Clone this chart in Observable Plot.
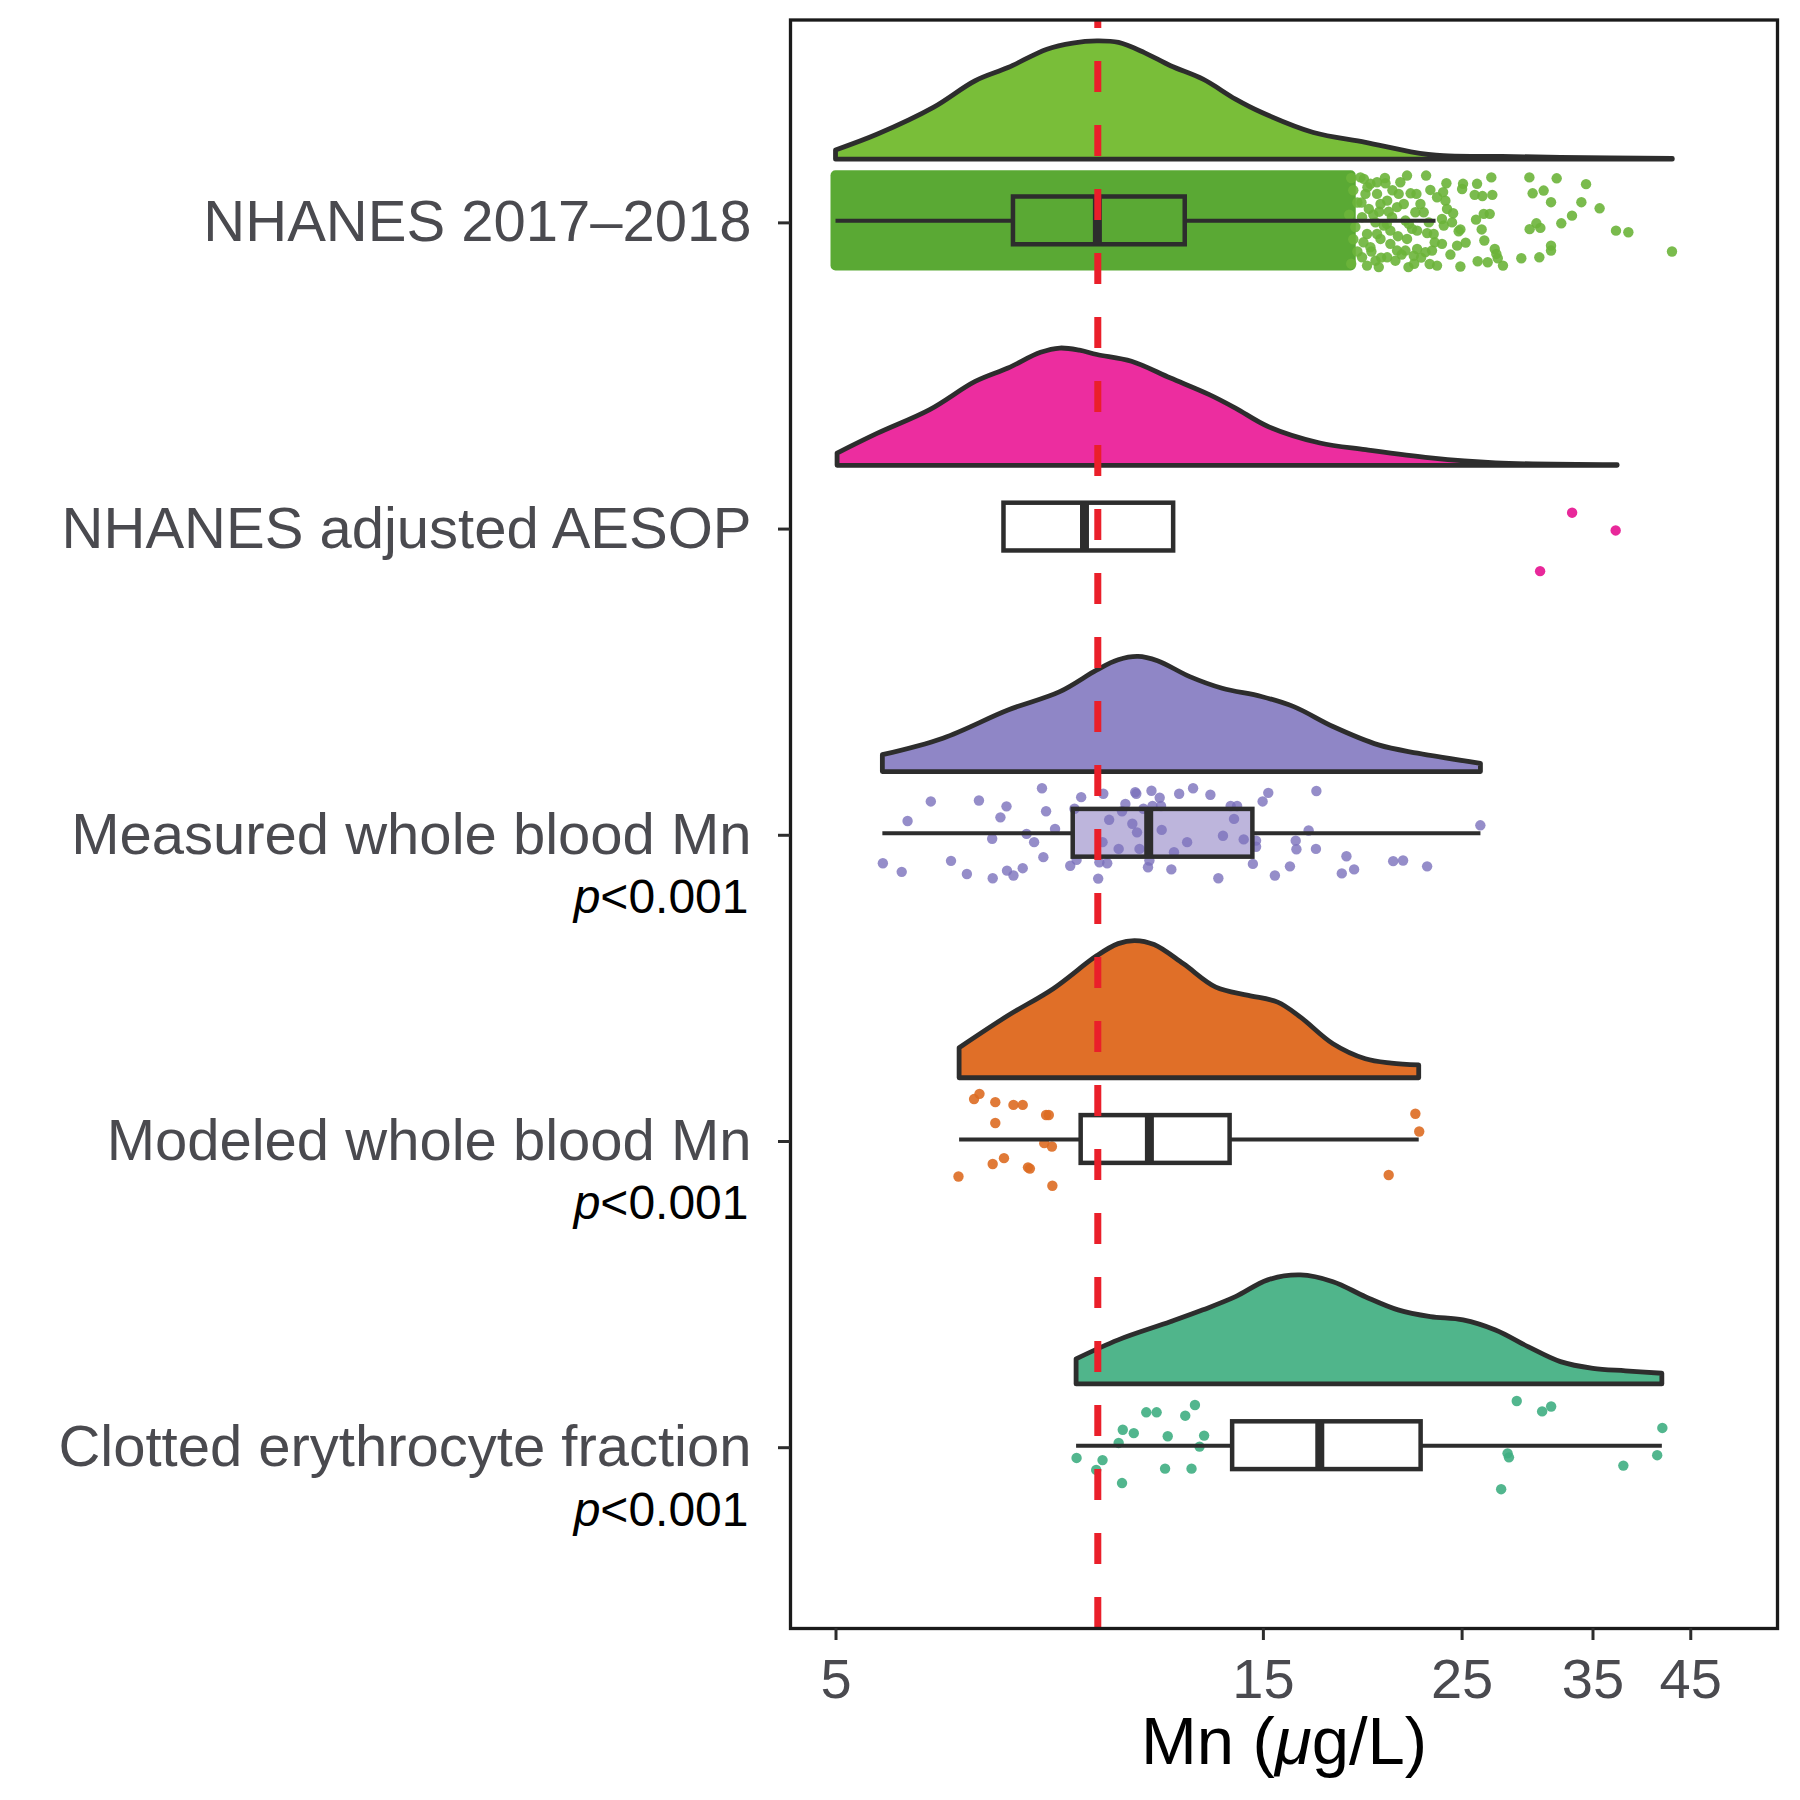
<!DOCTYPE html>
<html><head><meta charset="utf-8">
<script src="https://cdn.jsdelivr.net/npm/d3@7"></script>
<script src="https://cdn.jsdelivr.net/npm/@observablehq/plot@0.6"></script>
<style>body{margin:0;background:#fff}</style>
</head><body><div id="chart"></div>
<script>
const categories = ["NHANES 2017\u20132018", "NHANES adjusted AESOP", "Measured whole blood Mn", "Modeled whole blood Mn", "Clotted erythrocyte fraction"];
const pLabels = [null, null, "p<0.001", "p<0.001", "p<0.001"];
const xTicks = [5, 15, 25, 35, 45];
const xTitle = "Mn (\u03bcg/L)";
const referenceValue = 9.8;

// box plot statistics (µg/L)
const q1 = [7.89, 7.70, 9.20, 9.39, 13.86];
const median = [9.79, 9.47, 11.17, 11.19, 17.34];
const q3 = [12.27, 11.91, 14.60, 13.77, 22.50];
const whiskerLow = [5.0, null, 5.64, 6.87, 9.28];
const whiskerHigh = [23.38, null, 26.24, 22.39, 41.83];

// half-violin densities: [value, height in category units]
const densityNhanes = [[5.0,0.030],[5.57,0.082],[6.43,0.169],[7.16,0.256],[7.79,0.299],[8.61,0.359],[9.20,0.379],[9.79,0.386],[10.35,0.381],[11.06,0.348],[11.83,0.305],[12.86,0.261],[13.98,0.196],[14.94,0.153],[17.08,0.087],[19.53,0.055],[21.95,0.024],[23.86,0.011],[27.28,0.009],[32.24,0.006],[42.97,0.002]];
const densityAdjusted = [[5.02,0.040],[5.57,0.105],[6.37,0.182],[7.16,0.274],[7.79,0.318],[8.47,0.369],[8.90,0.383],[9.36,0.376],[9.79,0.362],[10.70,0.340],[11.83,0.285],[13.07,0.231],[13.98,0.187],[15.20,0.127],[17.37,0.073],[19.53,0.051],[23.08,0.024],[27.28,0.008],[37.29,0.002]];
const densityMeasured = [[5.64,0.055],[6.59,0.109],[7.79,0.201],[8.90,0.261],[9.79,0.332],[10.34,0.365],[10.88,0.376],[11.44,0.362],[12.43,0.310],[13.51,0.272],[14.94,0.245],[16.24,0.212],[17.96,0.147],[20.19,0.087],[22.32,0.060],[26.24,0.027]];
const densityModeled = [[6.87,0.098],[7.79,0.203],[8.75,0.291],[9.79,0.399],[10.34,0.438],[10.79,0.448],[11.34,0.435],[12.23,0.372],[13.29,0.296],[14.45,0.269],[15.58,0.247],[16.52,0.198],[17.96,0.111],[19.52,0.062],[20.87,0.048],[22.39,0.042]];
const densityClotted = [[9.28,0.082],[10.34,0.144],[11.82,0.203],[12.86,0.242],[13.98,0.285],[15.19,0.340],[16.52,0.356],[17.96,0.334],[19.52,0.285],[21.23,0.242],[23.07,0.220],[25.09,0.209],[27.27,0.176],[29.65,0.122],[32.23,0.073],[35.04,0.051],[38.10,0.043],[41.83,0.035]];

// NHANES 2017-2018: dense core of >3000 jittered points (value range, jitter range) + sparser edge/tail points
const nhanesCore = {from: 5.0, to: 18.8, jitterLow: -0.147, jitterHigh: 0.147};
const pointsNhanes = [[21.70,-0.148],[22.79,-0.148],[24.01,-0.123],[25.06,-0.121],[25.98,-0.121],[26.95,-0.142],[29.72,-0.142],[31.88,-0.139],[34.38,-0.120],[23.04,-0.101],[23.81,-0.094],[25.00,-0.104],[25.82,-0.085],[26.34,-0.081],[27.02,-0.085],[29.97,-0.090],[30.83,-0.099],[31.42,-0.061],[33.97,-0.061],[35.60,-0.041],[23.95,-0.066],[24.05,-0.039],[24.43,-0.025],[26.43,-0.023],[26.84,-0.023],[25.91,-0.004],[33.16,-0.017],[32.26,0.008],[30.26,0.008],[30.57,0.023],[29.74,0.027],[37.13,0.032],[38.33,0.037],[26.29,0.028],[24.89,0.028],[24.78,0.034],[26.47,0.064],[25.23,0.071],[24.68,0.081],[27.19,0.092],[27.30,0.108],[31.42,0.081],[31.42,0.097],[30.49,0.119],[29.11,0.122],[27.40,0.122],[27.77,0.146],[26.70,0.135],[26.02,0.132],[24.89,0.149],[23.44,0.146],[23.00,0.141],[24.26,0.110],[42.88,0.100],[23.74,0.075],[23.30,0.070],[22.75,0.102],[22.08,0.114],[21.78,0.151],[20.18,0.151],[23.24,0.043],[22.85,0.040],[22.27,0.032],[21.70,0.059],[23.74,-0.006],[23.44,-0.077],[22.23,-0.088],[21.33,-0.126],[20.53,-0.123],[20.09,-0.126],[22.17,-0.028],[22.65,-0.028],[21.15,-0.045],[21.15,0.097],[20.62,0.119],[20.79,0.032],[19.42,-0.137],[19.75,-0.121],[19.50,-0.088],[20.09,-0.088],[20.27,-0.055],[19.67,-0.039],[19.33,-0.012],[20.01,0.005],[20.44,0.015],[19.58,0.043],[20.27,0.059],[19.75,0.086],[19.33,0.119],[20.01,0.130],[19.58,0.146],[20.88,-0.012],[21.24,-0.088],[21.52,-0.055],[21.61,-0.001],[20.79,0.075],[21.06,0.130],[21.98,0.026],[22.46,-0.055],[22.95,0.005],[22.27,0.092],[23.14,0.097],[23.85,0.015],[24.36,0.005],[21.61,0.097],[19.25,-0.142],[20.62,-0.066],[20.09,0.043],
  [18.8,-0.140],[18.9,-0.100],[19.1,-0.060],[18.7,-0.020],[19.0,0.020],[18.9,0.060],[19.1,0.100],[18.8,0.140],[19.6,-0.110],[19.9,-0.020],[19.4,0.070],[20.3,0.120],[20.5,-0.140],[20.9,-0.100],[21.2,0.050],[20.6,0.010],[21.4,0.110],[21.9,-0.090],[22.1,0.140],[20.2,-0.030],[19.8,0.100],[19.3,-0.060],[20.7,-0.030],[21.8,0.010],[22.5,0.120]];
const pointsAdjusted = [[33.17,-0.047],[37.10,0.011],[30.55,0.144]];
const pointsMeasured = [[8.49,-0.147],[9.39,-0.118],[9.94,-0.129],[10.79,-0.134],[10.82,-0.129],[11.25,-0.139],[11.49,-0.116],[12.08,-0.129],[12.52,-0.147],[13.09,-0.126],[15.19,-0.132],[14.97,-0.104],[17.19,-0.138],[6.38,-0.104],[7.22,-0.107],[7.75,-0.088],[6.01,-0.040],[7.63,-0.052],[8.58,-0.072],[9.23,-0.080],[10.52,-0.096],[10.43,-0.072],[11.02,-0.080],[11.28,-0.089],[11.53,-0.089],[13.79,-0.089],[14.02,-0.089],[13.91,-0.047],[10.09,-0.044],[10.71,-0.031],[10.84,-0.003],[11.55,-0.011],[8.78,-0.014],[8.16,0.002],[7.47,0.018],[8.32,0.029],[9.92,0.029],[10.34,0.051],[10.91,0.051],[12.33,0.029],[13.52,0.008],[14.26,0.020],[14.72,0.024],[14.72,0.044],[16.30,0.024],[16.33,0.052],[16.85,-0.009],[17.17,0.051],[11.92,0.062],[18.57,0.075],[8.52,0.078],[9.28,0.087],[9.13,0.106],[9.84,0.095],[10.04,0.098],[11.15,0.111],[11.84,0.118],[14.60,0.100],[16.06,0.108],[15.45,0.138],[13.36,0.147],[9.81,0.148],[5.64,0.098],[5.92,0.126],[6.72,0.090],[7.00,0.133],[7.48,0.147],[7.76,0.122],[7.89,0.138],[8.08,0.114],[18.35,0.131],[18.94,0.118],[20.94,0.091],[21.48,0.089],[22.85,0.108],[26.20,-0.026],[11.19,0.089]];
const pointsModeled = [[7.13,-0.132],[7.23,-0.149],[7.53,-0.122],[7.89,-0.113],[8.08,-0.113],[8.58,-0.080],[8.64,-0.080],[7.53,-0.054],[22.17,-0.084],[22.39,-0.026],[8.54,0.012],[8.71,0.023],[7.70,0.061],[7.48,0.080],[8.19,0.091],[8.23,0.095],[6.85,0.121],[8.72,0.151],[20.70,0.116]];
const pointsClotted = [[12.58,-0.133],[12.27,-0.098],[11.10,-0.109],[11.40,-0.109],[10.45,-0.052],[10.75,-0.041],[11.73,-0.031],[12.88,-0.033],[10.34,-0.009],[12.73,0.003],[9.28,0.040],[9.92,0.047],[9.76,0.079],[11.65,0.075],[12.47,0.075],[10.43,0.122],[28.77,-0.146],[30.71,-0.112],[31.43,-0.128],[41.83,-0.058],[28.10,0.025],[28.20,0.038],[41.28,0.031],[37.84,0.065],[27.64,0.142]];

const densities = [densityNhanes, densityAdjusted, densityMeasured, densityModeled, densityClotted];
const points = [pointsNhanes, pointsAdjusted, pointsMeasured, pointsModeled, pointsClotted];

// styles
const densityFill = ["#79BE39", "#EC2D9F", "#8F86C6", "#E06F28", "#50B58B"];
const pointFill = ["#6CB43A", "#E8289A", "#7A70BC", "#DD6B22", "#3FAE82"];
const pointOpacity = [0.9, 1, 0.8, 0.9, 0.9];
const boxFill = ["#5AA934", "#FFFFFF", "#BDB5DC", "#FFFFFF", "#FFFFFF"];
const ink = "#2D2D2D";
const labelInk = "#4A4A4F";
const cloudOffset = 0.2, boxHalf = 0.078;

const boxRows = categories.map((c, i) => ({i, q1: q1[i], med: median[i], q3: q3[i], wlo: whiskerLow[i], whi: whiskerHigh[i]}));
const marks = [];

categories.forEach((c, i) => {
  const rows = densities[i].map(([v, h]) => ({v, h}));
  marks.push(Plot.areaY(rows, {x: "v", y1: () => i - cloudOffset, y2: d => i - cloudOffset - d.h,
    fill: densityFill[i], stroke: ink, strokeWidth: 4.8, strokeLinejoin: "round", curve: "catmull-rom"}));
});

// dense jitter core of NHANES 2017-2018
marks.push(Plot.rect([nhanesCore], {x1: "from", x2: "to", y1: d => 0 + d.jitterLow, y2: d => 0 + d.jitterHigh,
  fill: "#5AA934", inset: -5, rx: 5}));

// box fills
marks.push(Plot.rect(boxRows, {x1: "q1", x2: "q3", y1: d => d.i - boxHalf, y2: d => d.i + boxHalf,
  fill: d => boxFill[d.i]}));

// jittered points
categories.forEach((c, i) => {
  marks.push(Plot.dot(points[i], {x: d => d[0], y: d => i + d[1], r: 5.2,
    fill: pointFill[i], fillOpacity: pointOpacity[i], stroke: "none"}));
});

const withWhiskers = boxRows.filter(d => d.wlo != null);
marks.push(
  Plot.ruleY(withWhiskers, {y: "i", x1: "wlo", x2: "q1", stroke: ink, strokeWidth: 4}),
  Plot.ruleY(withWhiskers, {y: "i", x1: "q3", x2: "whi", stroke: ink, strokeWidth: 4}),
  Plot.rect(boxRows, {x1: "q1", x2: "q3", y1: d => d.i - boxHalf, y2: d => d.i + boxHalf,
    fill: "none", stroke: ink, strokeWidth: 4.5}),
  Plot.ruleX(boxRows, {x: "med", y1: d => d.i - boxHalf, y2: d => d.i + boxHalf, stroke: ink, strokeWidth: 9}),
  Plot.ruleX([referenceValue], {x: d => d, y1: 4.597, y2: -0.656, stroke: "#EA1F2A", strokeWidth: 7, strokeDasharray: "31,33"}),
  Plot.frame({stroke: "#1A1A1A", strokeWidth: 3.3}),
  Plot.axisY({ticks: [0, 1, 2, 3, 4], tickFormat: i => categories[i], tickSize: 12, tickPadding: 27,
    fontSize: 58, fill: labelInk, stroke: ink, strokeWidth: 3, dy: 2, label: null}),
  Plot.axisX({ticks: xTicks, tickFormat: d => String(d), tickSize: 12, tickPadding: 18,
    fontSize: 56, fill: labelInk, stroke: ink, strokeWidth: 3, label: null}),
  Plot.text(boxRows.filter(d => pLabels[d.i]), {frameAnchor: "left", y: d => d.i + 0.211, text: d => pLabels[d.i],
    textAnchor: "end", dx: -42, fontSize: 48, fill: "#000"}),
  Plot.text([xTitle], {frameAnchor: "bottom", text: d => d, dy: 135, lineAnchor: "bottom", fontSize: 67, fill: "#000"})
);

const svg = Plot.plot({
  width: 1800, height: 1800,
  marginLeft: 790, marginRight: 23, marginTop: 19.5, marginBottom: 172,
  x: {type: "log", domain: [4.448, 56.24]},
  y: {domain: [-0.656, 4.597], reverse: true},
  style: {fontFamily: "'Liberation Sans', Arial, Helvetica, sans-serif", background: "#fff"},
  marks
});

d3.select(svg).selectAll("text").each(function() {
  const t = this.textContent;
  const s = d3.select(this);
  if (t === "p<0.001") {
    s.text(null);
    s.append("tspan").attr("font-style", "italic").text("p");
    s.append("tspan").text("<0.001");
  } else if (t === xTitle) {
    s.text(null);
    s.append("tspan").text("Mn (");
    s.append("tspan").attr("font-style", "italic").text("\u03bc");
    s.append("tspan").text("g/L)");
  }
});

document.getElementById("chart").appendChild(svg);
</script>
</body></html>
